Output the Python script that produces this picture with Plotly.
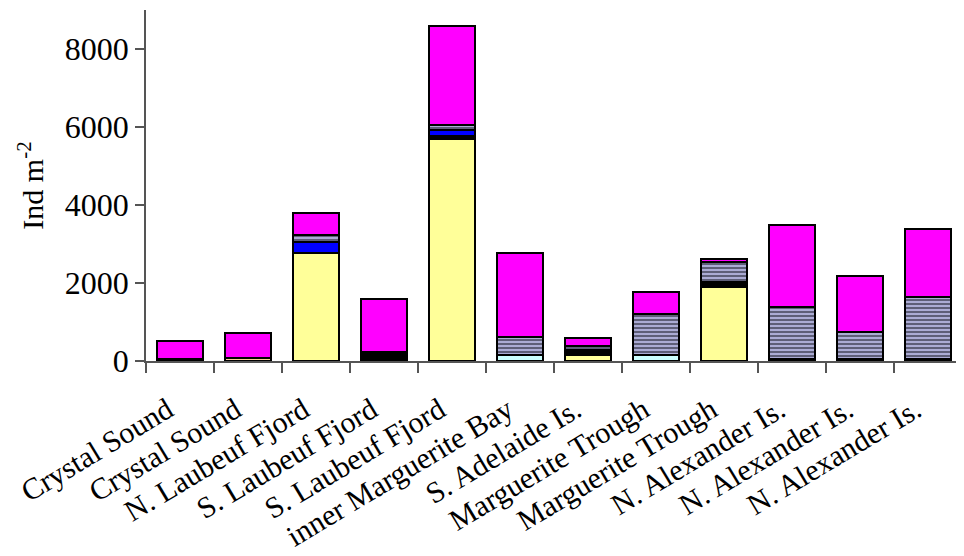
import plotly.graph_objects as go

sites = ["Crystal Sound", "Crystal Sound", "N. Laubeuf Fjord", "S. Laubeuf Fjord",
         "S. Laubeuf Fjord", "inner Marguerite Bay", "S. Adelaide Is.", "Marguerite Trough",
         "Marguerite Trough", "N. Alexander Is.", "N. Alexander Is.", "N. Alexander Is."]

cyan_vals = [None, None, None, None, None, 150, None, 150, None, None, None, None]
yellow_vals = [None, None, 2770, None, 5680, None, 150, None, 1890, None, None, None]
orange_vals = [None, 80, None, None, None, None, None, None, None, None, None, None]
black_vals = [40, None, None, 180, 80, None, 120, None, 130, 40, 40, 40]
blue_vals = [None, None, 290, None, 170, None, None, None, None, None, None, None]
striped_vals = [None, None, 170, 60, 130, 470, 120, 1045, 510, 1350, 700, 1610]
magenta_vals = [480, 640, 570, 1350, 2540, 2150, 190, 570, 90, 2100, 1430, 1730]

ytick_vals = [0, 2000, 4000, 6000, 8000]

x = list(range(len(sites)))
label_pos = [i - 0.18 for i in x]

series = [
    ("Group 1", cyan_vals, "#CCFFFF", None),
    ("Group 2", yellow_vals, "#FFFF99", None),
    ("Group 3", orange_vals, "#FFCC99", None),
    ("Group 4", black_vals, "#000000", None),
    ("Group 5", blue_vals, "#0000FF", None),
    ("Group 6", striped_vals, "#ABABD4", "-"),
    ("Group 7", magenta_vals, "#FF00FF", None),
]

fig = go.Figure()
for name, vals, col, pat in series:
    marker = dict(color=col, line=dict(color="#000000", width=2))
    if pat:
        marker["pattern"] = dict(shape=pat, bgcolor=col, fgcolor="#55556E",
                                 size=4, solidity=0.45, fillmode="replace")
    fig.add_trace(go.Bar(x=x, y=vals, name=name, marker=marker, showlegend=False))

font_family = "Liberation Serif"
fig.update_layout(
    barmode="stack",
    bargap=0.31,
    width=956, height=548,
    margin=dict(l=138, r=2, t=2, b=195),
    plot_bgcolor="white", paper_bgcolor="white",
    font=dict(family=font_family, size=30, color="black"),
    xaxis=dict(
        tickmode="array", tickvals=label_pos, ticktext=sites,
        tickangle=-31, ticks="", showgrid=False, automargin=False,
        showline=True, linecolor="#555555", linewidth=1.5,
        range=[-0.5, len(sites) - 0.5],
        minor=dict(ticks="outside", tick0=-0.5, dtick=1, ticklen=10,
                   tickcolor="#555555", tickwidth=1.5),
        ticklabelstandoff=18,
        tickfont=dict(family=font_family, size=30),
    ),
    yaxis=dict(
        range=[0, 9000], tickvals=ytick_vals, ticks="outside", ticklen=9,
        tickcolor="#555555", tickwidth=1.5, automargin=False,
        showline=True, linecolor="#555555", linewidth=1.5,
        showgrid=False, zeroline=False,
        tickfont=dict(family=font_family, size=32),
        title=dict(text="Ind m<sup>-2</sup>", font=dict(family=font_family, size=30), standoff=12),
    ),
)

fig.write_html("out.html")
